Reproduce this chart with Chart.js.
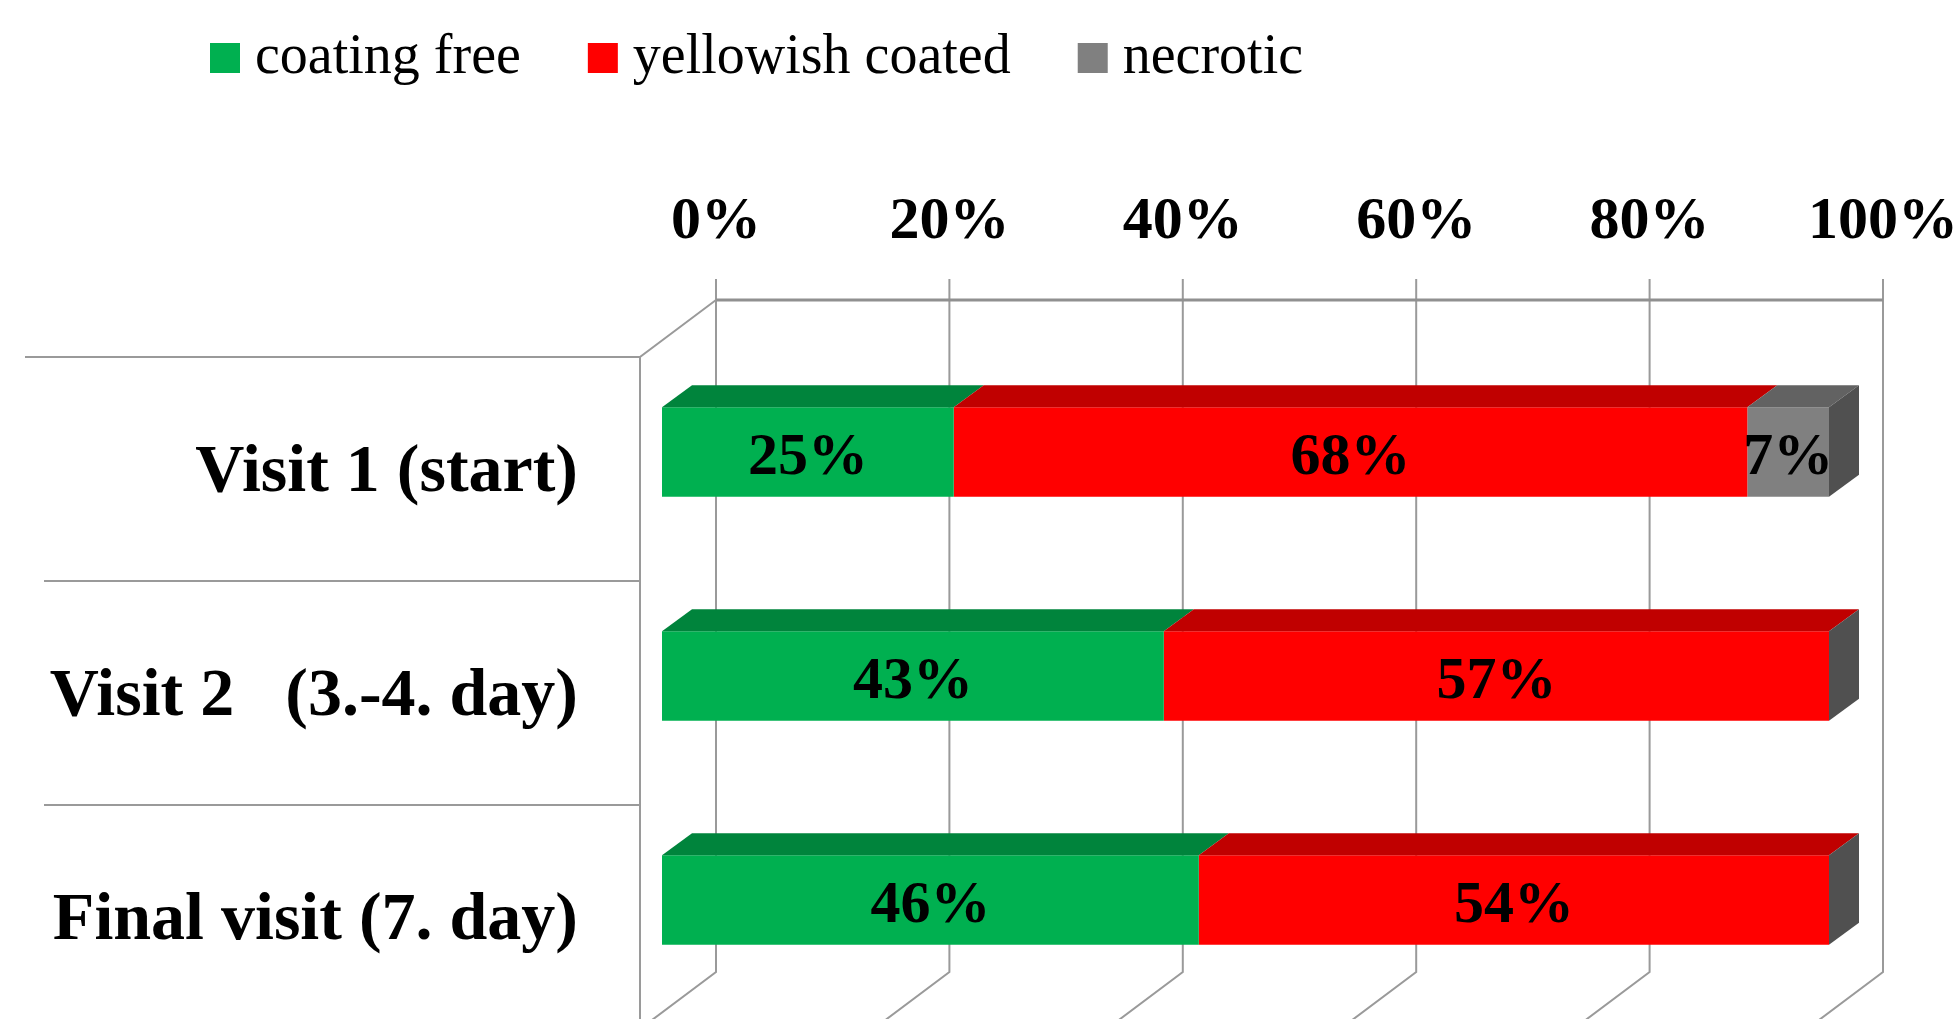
<!DOCTYPE html>
<html>
<head>
<meta charset="utf-8">
<script src="https://cdn.jsdelivr.net/npm/chart.js@4.4.1/dist/chart.umd.min.js"></script>
<style>
  html, body { margin: 0; padding: 0; background: #ffffff; }
  #wrap { position: relative; width: 1960px; height: 1019px; }
</style>
</head>
<body>
<div id="wrap"><canvas id="c"></canvas></div>
<script>
// ---- data ----
const categories = ['Visit 1 (start)', 'Visit 2   (3.-4. day)', 'Final visit (7. day)'];
const seriesNames = ['coating free', 'yellowish coated', 'necrotic'];
const coatingFree = [25, 43, 46];
const yellowishCoated = [68, 57, 54];
const necrotic = [7, 0, 0];
const tickValues = [0, 20, 40, 60, 80, 100];

// ---- styles ----
const frontColors = ['#00B050', '#FF0000', '#808080'];
const topColors = ['#00843C', '#C00000', '#626262'];
const sideColors = ['#007034', '#A00000', '#505050'];
const SERIF = '"Liberation Serif", "Times New Roman", serif';
const LINE = '#9a9a9a';

// 3D geometry offsets (pixels) relative to the bar-front coordinate system
const BACK_DX = 54, BACK_DY = -40;     // back wall
const FLOOR_DX = -76, FLOOR_DY = 57;   // back -> front of the depth
const BAR_DX = 30, BAR_DY = 22;        // bar depth

const back3d = {
  id: 'back3d',
  beforeDatasetsDraw(chart) {
    const {ctx, chartArea: ca, scales: {x, y}} = chart;
    const bTop = ca.top + BACK_DY, bBot = ca.bottom + BACK_DY;
    const fLeft = x.getPixelForValue(0) + BACK_DX + FLOOR_DX;
    const fTop = bTop + FLOOR_DY, fBot = bBot + FLOOR_DY;
    ctx.save();
    ctx.strokeStyle = LINE;
    ctx.lineWidth = 2;
    tickValues.forEach(v => {
      const px = x.getPixelForValue(v) + BACK_DX;
      ctx.beginPath();
      ctx.moveTo(px, bTop - 21);
      ctx.lineTo(px, bBot);
      ctx.lineTo(px + FLOOR_DX, bBot + FLOOR_DY);
      ctx.stroke();
    });
    ctx.lineWidth = 3;
    ctx.strokeStyle = '#909090';
    ctx.beginPath();
    ctx.moveTo(x.getPixelForValue(0) + BACK_DX, bTop);
    ctx.lineTo(x.getPixelForValue(100) + BACK_DX, bTop);
    ctx.stroke();
    ctx.lineWidth = 2;
    ctx.strokeStyle = LINE;
    ctx.beginPath();
    ctx.moveTo(x.getPixelForValue(0) + BACK_DX, bTop);
    ctx.lineTo(fLeft, fTop);
    ctx.lineTo(fLeft, fBot);
    ctx.stroke();
    const n = categories.length;
    const band = (fBot - fTop) / n;
    for (let i = 0; i < n; i++) {
      const yy = fTop + i * band;
      ctx.beginPath();
      ctx.moveTo(i === 0 ? 25 : 44, yy);
      ctx.lineTo(fLeft, yy);
      ctx.stroke();
    }
    ctx.restore();
  }
};

const bars3d = {
  id: 'bars3d',
  afterDatasetsDraw(chart) {
    const {ctx} = chart;
    const nds = chart.data.datasets.length;
    ctx.save();
    for (let d = 0; d < nds; d++) {
      const meta = chart.getDatasetMeta(d);
      meta.data.forEach(el => {
        const p = el.getProps(['x', 'y', 'base', 'height'], true);
        const top = p.y - p.height / 2;
        const l = Math.min(p.x, p.base), r = Math.max(p.x, p.base);
        if (r - l < 0.5) return;
        ctx.fillStyle = topColors[d];
        ctx.beginPath();
        ctx.moveTo(l, top);
        ctx.lineTo(r, top);
        ctx.lineTo(r + BAR_DX, top - BAR_DY);
        ctx.lineTo(l + BAR_DX, top - BAR_DY);
        ctx.closePath();
        ctx.fill();
      });
    }
    const nCat = categories.length;
    for (let i = 0; i < nCat; i++) {
      let best = null, bestD = -1;
      for (let d = 0; d < nds; d++) {
        const el = chart.getDatasetMeta(d).data[i];
        const p = el.getProps(['x', 'y', 'base', 'height'], true);
        if (!best || p.x >= best.x - 0.5) { best = p; bestD = d; }
      }
      const top = best.y - best.height / 2, bot = best.y + best.height / 2;
      ctx.fillStyle = sideColors[bestD];
      ctx.beginPath();
      ctx.moveTo(best.x, top);
      ctx.lineTo(best.x + BAR_DX, top - BAR_DY);
      ctx.lineTo(best.x + BAR_DX, bot - BAR_DY);
      ctx.lineTo(best.x, bot);
      ctx.closePath();
      ctx.fill();
    }
    ctx.fillStyle = '#000';
    ctx.font = 'bold 60px ' + SERIF;
    ctx.textAlign = 'center';
    ctx.textBaseline = 'middle';
    for (let d = 0; d < nds; d++) {
      const meta = chart.getDatasetMeta(d);
      const vals = chart.data.datasets[d].data;
      meta.data.forEach((el, i) => {
        if (!vals[i]) return;
        const p = el.getProps(['x', 'y', 'base'], true);
        ctx.fillText(vals[i] + '%', (p.x + p.base) / 2, p.y + 6);
      });
    }
    ctx.restore();
  }
};

const legendManual = {
  id: 'legendManual',
  afterDraw(chart) {
    const {ctx} = chart;
    ctx.save();
    ctx.font = '56px ' + SERIF;
    ctx.textBaseline = 'alphabetic';
    ctx.textAlign = 'left';
    let xx = 210;
    const baseY = 73, box = 30, gap = 15, spacing = 67;
    chart.data.datasets.forEach((ds, d) => {
      ctx.fillStyle = ds.backgroundColor;
      ctx.fillRect(xx, baseY - box, box, box);
      ctx.fillStyle = '#000';
      ctx.fillText(ds.label, xx + box + gap, baseY);
      xx += box + gap + ctx.measureText(ds.label).width + spacing;
    });
    ctx.restore();
  }
};

const seriesValues = [coatingFree, yellowishCoated, necrotic];
const chart = new Chart(document.getElementById('c'), {
  type: 'bar',
  data: {
    labels: categories,
    datasets: seriesNames.map((name, i) => ({
      label: name,
      data: seriesValues[i],
      backgroundColor: frontColors[i],
      borderWidth: 0,
      barPercentage: 0.4,
      categoryPercentage: 1.0
    }))
  },
  options: {
    indexAxis: 'y',
    responsive: true,
    maintainAspectRatio: false,
    animation: false,
    layout: { padding: { top: 0, left: 0, right: 131, bottom: 7 } },
    plugins: {
      legend: { display: false },
      tooltip: { enabled: false }
    },
    scales: {
      x: {
        position: 'top',
        stacked: true,
        min: 0, max: 100,
        afterBuildTicks(scale) { scale.ticks = tickValues.map(v => ({value: v})); },
        ticks: {
          callback: v => v + '%',
          font: { family: SERIF, size: 60, weight: 'bold' },
          color: '#000',
          padding: 82,
          labelOffset: BACK_DX,
          maxRotation: 0,
          autoSkip: false
        },
        grid: { display: false, drawTicks: false },
        border: { display: false },
        afterFit(scale) { scale.height = 340; scale.paddingLeft = 0; scale.paddingRight = 0; }
      },
      y: {
        stacked: true,
        ticks: {
          font: { family: SERIF, size: 68, weight: 'bold' },
          color: '#000',
          padding: 84,
          labelOffset: 21,
          autoSkip: false
        },
        grid: { display: false, drawTicks: false },
        border: { display: false },
        afterFit(scale) { scale.width = 662; scale.paddingTop = 0; scale.paddingBottom = 0; }
      }
    }
  },
  plugins: [back3d, bars3d, legendManual]
});
</script>
</body>
</html>
